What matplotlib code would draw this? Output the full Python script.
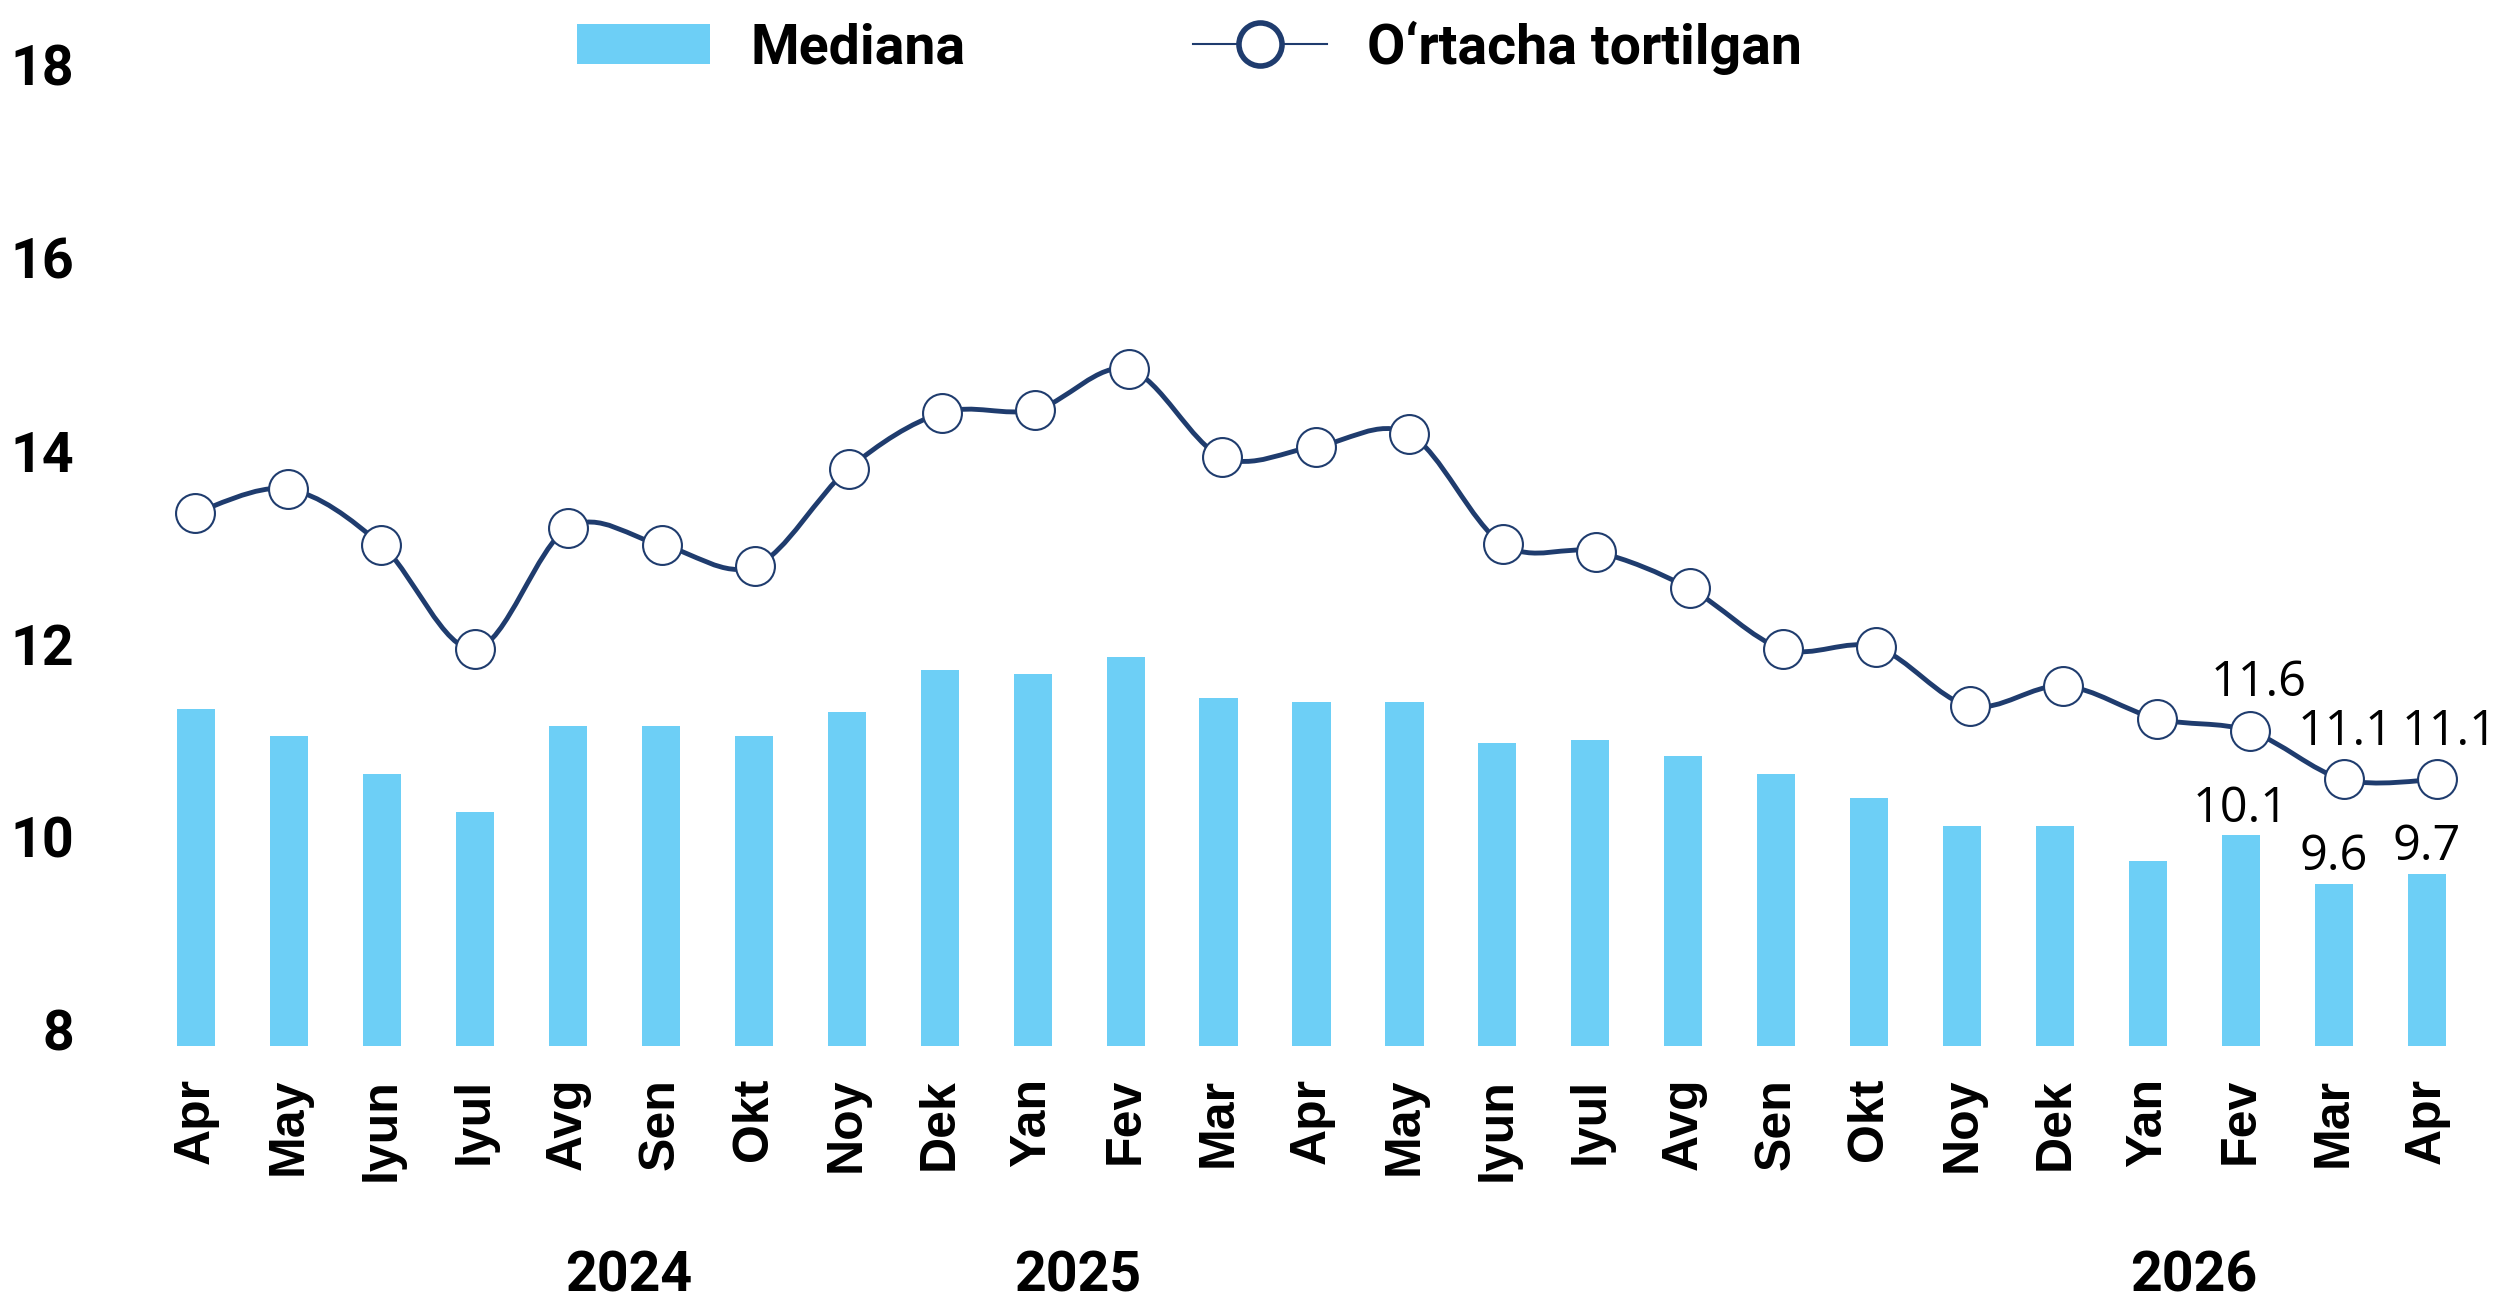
import numpy as np
import matplotlib
matplotlib.use("Agg")
import matplotlib.pyplot as plt
import matplotlib.transforms as mtransforms
from matplotlib.path import Path
from matplotlib.patches import PathPatch, Patch
from matplotlib.lines import Line2D

# Data
months = ["Apr", "May", "Iyun", "Iyul", "Avg", "Sen", "Okt", "Noy", "Dek",
          "Yan", "Fev", "Mar", "Apr", "May", "Iyun", "Iyul", "Avg", "Sen",
          "Okt", "Noy", "Dek", "Yan", "Fev", "Mar", "Apr"]
mediana = [11.41, 11.13, 10.74, 10.34, 11.23, 11.23, 11.13, 11.38, 11.81,
           11.77, 11.95, 11.52, 11.48, 11.48, 11.06, 11.09, 10.92, 10.74,
           10.49, 10.20, 10.20, 9.84, 10.1, 9.6, 9.7]
ortacha = [13.86, 14.11, 13.53, 12.45, 13.71, 13.53, 13.31, 14.32, 14.90,
           14.93, 15.35, 14.44, 14.55, 14.68, 13.54, 13.46, 13.08, 12.45,
           12.47, 11.86, 12.07, 11.73, 11.6, 11.1, 11.1]
labelled = [22, 23, 24]
years = ["2024", "2025", "2026"]
year_pos = [4.65, 9.48, 21.49]
yticks = [8, 10, 12, 14, 16, 18]

bar_color = "#6DCFF6"
navy = "#1F3C6E"

fig = plt.figure(figsize=(25, 13.04), dpi=100)
rect = [0.0598, 0.198, 0.9296, 0.746]
ax = fig.add_axes(rect)
x = np.arange(len(months))

ax.bar(x, mediana, width=0.41, color=bar_color, zorder=2)
ax.set_xlim(-0.5, len(months) - 0.5)
ax.set_ylim(7.92, 18)
ax.set_yticks(yticks)
ax.set_xticks(x)
ax.set_xticklabels(months, rotation=90, fontsize=36, fontweight="bold",
                   family="Liberation Sans")
for lbl in ax.get_yticklabels():
    lbl.set_fontsize(40)
    lbl.set_fontweight("bold")
    lbl.set_family("Roboto")
ax.tick_params(axis="x", length=0, pad=23)
ax.tick_params(axis="y", length=0, pad=54)
for s in ax.spines.values():
    s.set_visible(False)

up = mtransforms.ScaledTranslation(0, 8 / 100, fig.dpi_scale_trans)
for lbl in ax.get_yticklabels():
    lbl.set_transform(lbl.get_transform() + up)

for i in labelled:
    ax.annotate(f"{mediana[i]:.1f}", (x[i], mediana[i]), xytext=(0, 10),
                textcoords="offset points", ha="center", va="baseline",
                fontsize=35, family="Open Sans", zorder=5)

# line on a secondary axis (slightly different scaling, as in the source)
ax2 = fig.add_axes(rect)
ax2.patch.set_visible(False)
ax2.set_xlim(-0.482, 24.39)
ax2.set_ylim(7.92 + 0.42, 18 + 0.42)
ax2.set_xticks([])
ax2.set_yticks([])
for s in ax2.spines.values():
    s.set_visible(False)

pts = np.column_stack([x, ortacha])
n = len(pts)
verts = [tuple(pts[0])]
codes = [Path.MOVETO]
for i in range(n - 1):
    p0 = pts[max(i - 1, 0)]
    p1 = pts[i]
    p2 = pts[i + 1]
    p3 = pts[min(i + 2, n - 1)]
    c1 = p1 + (p2 - p0) / 6
    c2 = p2 - (p3 - p1) / 6
    verts += [tuple(c1), tuple(c2), tuple(p2)]
    codes += [Path.CURVE4] * 3
ax2.add_patch(PathPatch(Path(verts, codes), fill=False, edgecolor=navy,
                        lw=3.5, zorder=2))
ax2.plot(x, ortacha, ls="none", marker="o", ms=28, mfc="white", mec=navy,
         mew=1.5, zorder=3)

line_dx = [6, 1.5, 9]
for i, dx in zip(labelled, line_dx):
    ax2.annotate(f"{ortacha[i]:.1f}", (x[i], ortacha[i]), xytext=(dx, 25),
                 textcoords="offset points", ha="center", va="baseline",
                 fontsize=35, family="Open Sans", zorder=5)

# year labels
trans = mtransforms.blended_transform_factory(ax.transData, fig.transFigure)
for yr, pos in zip(years, year_pos):
    ax.text(pos, 0.021, yr, transform=trans, ha="center", va="center",
            fontsize=40, fontweight="bold", family="Roboto")

handles = [Patch(facecolor=bar_color),
           Line2D([], [], color=navy, lw=1.5, marker="o", ms=31, mfc="white",
                  mec=navy, mew=4)]
fig.legend(handles, ["Mediana", "O\u2018rtacha tortilgan"], loc="upper left",
           bbox_to_anchor=(0.2175, 1.01), ncol=2, frameon=False,
           prop={"family": "Roboto", "weight": "bold", "size": 40},
           handlelength=2.4, handleheight=0.75, handletextpad=0.72,
           columnspacing=4.1, borderpad=0.1)

fig.savefig("out.png", dpi=100)
